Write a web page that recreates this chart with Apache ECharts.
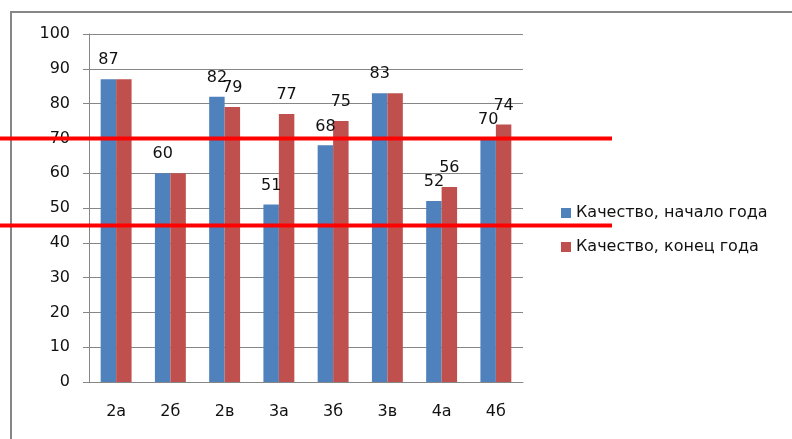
<!DOCTYPE html>
<html>
<head>
<meta charset="UTF-8">
<title>Качество</title>
<script src="https://cdn.jsdelivr.net/npm/echarts@6/dist/echarts.min.js"></script>
</head>
<body style="margin:0">
<div id="main" style="width:792px;height:439px;"></div>
<script>
// данные
var classes = ['2а', '2б', '2в', '3а', '3б', '3в', '4а', '4б'];
var startYear = [87, 60, 82, 51, 68, 83, 52, 70];
var endYear = [87, 60, 79, 77, 75, 83, 56, 74];
var levels = [70, 45];   // красные линии
var seriesNames = ['Качество, начало года', 'Качество, конец года'];

var font = 'DejaVu Sans';

// подпись у второго столбца скрыта, если значения совпадают
var endData = endYear.map(function (v, i) {
    return { value: v, label: { show: v !== startYear[i] } };
});

var myChart = echarts.init(document.getElementById('main'));
myChart.setOption({
    animation: false,
    textStyle: { fontFamily: font },
    grid: { left: 89, right: 269, top: 34, bottom: 57 },
    legend: {
        orient: 'vertical',
        left: 556,
        top: 200,
        itemWidth: 10,
        itemHeight: 10,
        itemGap: 18,
        icon: 'rect',
        textStyle: { fontFamily: font, fontSize: 16, color: '#111' },
        data: seriesNames
    },
    xAxis: {
        type: 'category',
        data: classes,
        axisLine: { lineStyle: { color: '#868686' } },
        axisTick: { length: 6, lineStyle: { color: '#868686' } },
        axisLabel: { margin: 22, fontSize: 16, color: '#111', fontFamily: font }
    },
    yAxis: {
        type: 'value',
        min: 0,
        max: 100,
        interval: 10,
        axisLine: { show: true, lineStyle: { color: '#868686' } },
        axisTick: { show: true, length: 6, lineStyle: { color: '#868686' } },
        splitLine: { lineStyle: { color: '#868686' } },
        axisLabel: { margin: 19, fontSize: 16, color: '#111', fontFamily: font }
    },
    series: [
        {
            name: seriesNames[0],
            type: 'bar',
            data: startYear,
            barWidth: '28.5%',
            barGap: '0%',
            itemStyle: { color: '#4f81bd' },
            label: { show: true, position: 'top', distance: 11, fontSize: 16, color: '#111', fontFamily: font }
        },
        {
            name: seriesNames[1],
            type: 'bar',
            data: endData,
            barWidth: '28.5%',
            itemStyle: { color: '#c0504d' },
            label: { show: true, position: 'top', distance: 11, fontSize: 16, color: '#111', fontFamily: font }
        }
    ]
});

// рамка и красные линии поверх графика
var graphics = [{
    type: 'rect',
    shape: { x: 11, y: 12, width: 800, height: 450 },
    style: { fill: null, stroke: '#868686', lineWidth: 2 },
    silent: true
}];
levels.forEach(function (lv) {
    var y = myChart.convertToPixel({ yAxisIndex: 0 }, lv);
    graphics.push({
        type: 'line',
        shape: { x1: 0, y1: y, x2: 612, y2: y },
        style: { stroke: '#ff0000', lineWidth: 4 },
        z: 100,
        silent: true
    });
});
myChart.setOption({ graphic: graphics });
</script>
</body>
</html>
